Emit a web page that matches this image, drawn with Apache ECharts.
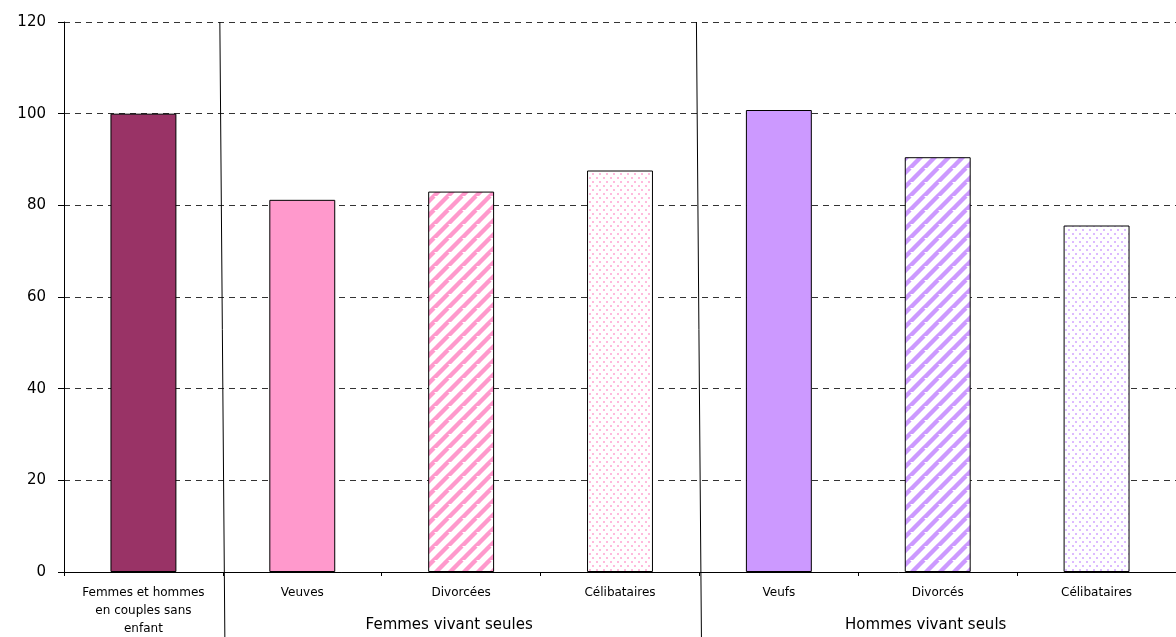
<!DOCTYPE html>
<html>
<head>
<meta charset="utf-8">
<script src="https://cdn.jsdelivr.net/npm/echarts@6/dist/echarts.min.js"></script>
<style>
  html, body { margin: 0; padding: 0; background: #fff; }
  #chart { width: 1176px; height: 637px; }
</style>
</head>
<body>
<div id="chart"></div>
<script>
const categories = [
  "Femmes et hommes\nen couples sans\nenfant",
  "Veuves", "Divorcées", "Célibataires",
  "Veufs", "Divorcés", "Célibataires"
];
const values = [100, 81.2, 83.0, 87.6, 100.8, 90.5, 75.6];
const groups = [
  { label: "Femmes vivant seules", from: 1, to: 3 },
  { label: "Hommes vivant seuls", from: 4, to: 6 }
];

// pattern helpers
function stripes(color) {
  const n = 14;
  const c = document.createElement("canvas");
  c.width = n; c.height = n;
  const ctx = c.getContext("2d");
  ctx.fillStyle = "#fff";
  ctx.fillRect(0, 0, n, n);
  ctx.strokeStyle = color;
  ctx.lineWidth = 4.4;
  for (let k = -n; k <= 2 * n; k += n) {
    ctx.beginPath();
    ctx.moveTo(k - n, 2 * n);
    ctx.lineTo(k + n, 0);
    ctx.stroke();
  }
  return { image: c, repeat: "repeat" };
}
function dots(color) {
  const c = document.createElement("canvas");
  c.width = 7; c.height = 8;
  const ctx = c.getContext("2d");
  ctx.fillStyle = "#fff";
  ctx.fillRect(0, 0, 7, 8);
  ctx.fillStyle = color;
  ctx.fillRect(1, 1, 2, 2);
  ctx.fillRect(4, 5, 2, 2);
  return { image: c, repeat: "repeat" };
}

const barColors = [
  "#993366",
  "#FF99CC", stripes("#FF99CC"), dots("#FFBBDD"),
  "#CC99FF", stripes("#CC99FF"), dots("#DDBBFF")
];

const chart = echarts.init(document.getElementById("chart"), null, { renderer: "canvas" });
const font = "'DejaVu Sans', 'Liberation Sans', Arial, sans-serif";

chart.setOption({
  animation: false,
  grid: { left: 64, right: 0, top: 22, bottom: 65, outerBoundsMode: "none" },
  xAxis: {
    type: "category",
    data: categories,
    axisLine: { lineStyle: { color: "#000", width: 1 } },
    axisTick: { show: true, length: 4, lineStyle: { color: "#000" } },
    axisLabel: {
      color: "#000", fontFamily: font, fontSize: 12, margin: 12,
      lineHeight: 18, interval: 0
    }
  },
  yAxis: {
    type: "value",
    min: 0, max: 120, interval: 20,
    axisLine: { show: true, lineStyle: { color: "#000", width: 1 } },
    axisTick: { show: true, length: 6, lineStyle: { color: "#000" } },
    axisLabel: { color: "#000", fontFamily: font, fontSize: 15, margin: 18 },
    splitLine: { lineStyle: { color: "#333", type: [6, 5], width: 1 } }
  },
  series: [{
    type: "bar",
    data: values.map((v, i) => ({ value: v, itemStyle: { color: barColors[i] } })),
    barWidth: "41.5%",
    itemStyle: { borderColor: "#000", borderWidth: 1 }
  }]
});

// separators and group labels placed from the axis scale
function drawExtras() {
  const p = i => chart.convertToPixel({ xAxisIndex: 0 }, i);
  const half = (p(1) - p(0)) / 2;
  const top = chart.convertToPixel({ yAxisIndex: 0 }, 120);
  const elements = [];
  [0, 3].forEach(i => {
    const xb = p(i) + half;
    elements.push({
      type: "line",
      shape: { x1: xb - 3, y1: top, x2: xb + 2, y2: 637 },
      style: { stroke: "#000", lineWidth: 1 }
    });
  });
  groups.forEach(g => {
    const cx = (p(g.from) + p(g.to)) / 2 - 12;
    elements.push({
      type: "text",
      x: cx, y: 625,
      style: {
        text: g.label, fill: "#000", font: "15px " + font,
        align: "center", verticalAlign: "middle"
      }
    });
  });
  chart.setOption({ graphic: elements });
}
drawExtras();
</script>
</body>
</html>
